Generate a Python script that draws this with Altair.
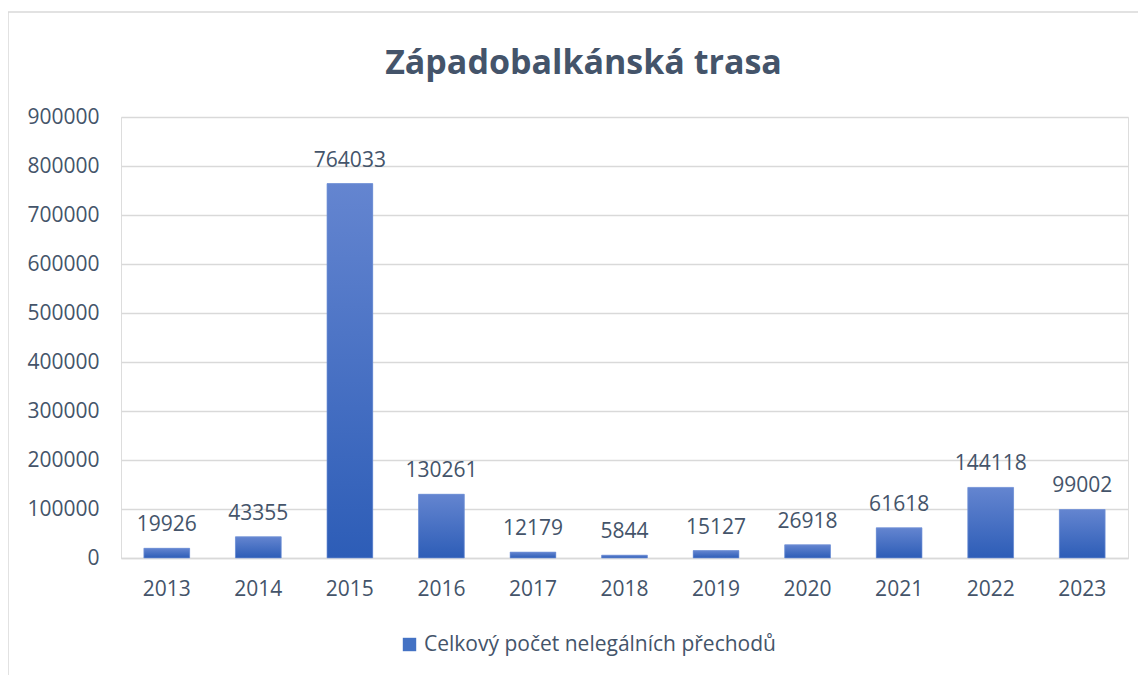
import altair as alt
import pandas as pd

years = ["2013", "2014", "2015", "2016", "2017", "2018", "2019", "2020", "2021", "2022", "2023"]
values = [19926, 43355, 764033, 130261, 12179, 5844, 15127, 26918, 61618, 144118, 99002]
series_name = "Celkový počet nelegálních přechodů"
y_ticks = [0, 100000, 200000, 300000, 400000, 500000, 600000, 700000, 800000, 900000]

df = pd.DataFrame({"year": years, "value": values, "series": [series_name] * len(years)})

FONT = "Open Sans"
TXT = "#44546A"
GRID = "#D9D9D9"
W, H = 1007, 441

x = alt.X("year:N", title=None, sort=years,
          scale=alt.Scale(paddingInner=0.5, paddingOuter=0.25),
          axis=alt.Axis(labelAngle=0, labelFont=FONT, labelFontSize=21, labelColor=TXT,
                        ticks=False, domainColor=GRID, domainWidth=1.5, labelPadding=20))
y = alt.Y("value:Q", title=None,
          scale=alt.Scale(domain=[0, 900000], nice=False),
          axis=alt.Axis(values=y_ticks, format="d", labelFont=FONT, labelFontSize=21,
                        labelColor=TXT, ticks=False, domain=False, gridColor=GRID,
                        gridWidth=1.5, labelPadding=22))

base = alt.Chart(df)

legend_bars = base.mark_bar().encode(
    x=x, y=y,
    color=alt.Color("series:N", title=None,
                    scale=alt.Scale(range=["#4472C4"]),
                    legend=alt.Legend(orient="none", legendX=278, legendY=517,
                                      symbolType="square", symbolSize=180,
                                      symbolStrokeWidth=0, labelFont=FONT,
                                      labelFontSize=21, labelColor=TXT,
                                      labelLimit=600, labelOffset=4, symbolOffset=0)),
)

grad_bars = base.mark_bar(
    color=alt.LinearGradient(
        gradient="linear", x1=0, y1=0, x2=0, y2=1,
        stops=[alt.GradientStop(color="#6485D0", offset=0),
               alt.GradientStop(color="#2D5DB7", offset=1)]),
    stroke="#7C9BDB", strokeWidth=0.6,
).encode(x=x, y=y)

labels = base.mark_text(baseline="alphabetic", dy=-17, font=FONT, fontSize=21,
                        color=TXT).encode(x=x, y=y, text=alt.Text("value:Q", format="d"))

border = alt.Chart(pd.DataFrame({"k": [0]})).mark_rect(
    fill=None, stroke=GRID, strokeWidth=1.5).encode(
    x=alt.value(-113), x2=alt.value(W + 40),
    y=alt.value(-105), y2=alt.value(H + 160))

chart = alt.layer(border, legend_bars, grad_bars, labels).properties(
    width=W, height=H,
    title=alt.TitleParams("Západobalkánská trasa", font=FONT, fontSize=34,
                          fontWeight="bold", color=TXT, anchor="middle", dx=-41,
                          offset=-70, frame="group"),
    padding={"left": 113, "top": 109, "right": 10, "bottom": 118},
    autosize=alt.AutoSizeParams(type="none"),
).configure_view(stroke=None).configure(background="white")

chart.save("out.html", embed_options={"renderer": "svg", "actions": False})
